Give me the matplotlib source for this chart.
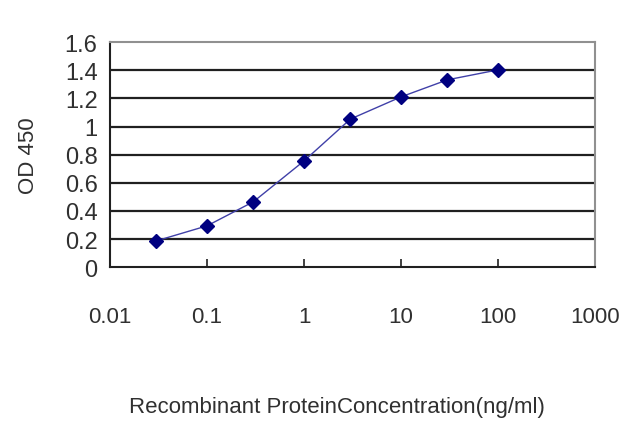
import numpy as np
import matplotlib
matplotlib.use("Agg")
import matplotlib.pyplot as plt

conc = [0.03, 0.1, 0.3, 1, 3, 10, 30, 100]
od = [0.187, 0.294, 0.465, 0.756, 1.053, 1.211, 1.332, 1.403]
xticks = [0.01, 0.1, 1, 10, 100, 1000]
xticklabels = ["0.01", "0.1", "1", "10", "100", "1000"]
yticks = [0, 0.2, 0.4, 0.6, 0.8, 1, 1.2, 1.4, 1.6]
yticklabels = ["0", "0.2", "0.4", "0.6", "0.8", "1", "1.2", "1.4", "1.6"]

plt.rcParams['font.family'] = ['Liberation Sans', 'DejaVu Sans']

fig = plt.figure(figsize=(6.4, 4.27), dpi=100)
ax = fig.add_axes([0.172, 0.372, 0.758, 0.527])

ax.set_xscale('log')
ax.set_xlim(0.01, 1000)
ax.set_ylim(0, 1.6)

for y in yticks[1:-1]:
    ax.axhline(y, color='#202020', lw=1.6, zorder=1)

ax.plot(conc, od, color='#4040a8', lw=1.0, zorder=2)
ax.plot(conc, od, 'D', color='#000080', markersize=7, zorder=3, lw=0)

ax.set_xticks(xticks)
ax.set_xticklabels(xticklabels, fontsize=16, color='#303030')
ax.minorticks_off()
ax.tick_params(axis='x', direction='in', length=6, width=1.2, pad=28, color='#202020')
ax.set_yticks(yticks)
ax.set_yticklabels(yticklabels, fontsize=17, color='#303030')
ax.tick_params(axis='y', length=0, pad=9)

ax.spines['left'].set_color('#202020')
ax.spines['left'].set_linewidth(1.5)
ax.spines['bottom'].set_color('#202020')
ax.spines['bottom'].set_linewidth(1.5)
ax.spines['top'].set_color('#909090')
ax.spines['top'].set_linewidth(1.5)
ax.spines['right'].set_color('#909090')
ax.spines['right'].set_linewidth(1.5)

ax.set_ylabel('OD 450', fontsize=16, color='#303030')
ax.yaxis.set_label_coords(-0.146, 0.5)
ax.set_xlabel('Recombinant ProteinConcentration(ng/ml)', fontsize=16, color='#303030')
ax.xaxis.set_label_coords(0.468, -0.574)

fig.savefig('out.png', dpi=100)
